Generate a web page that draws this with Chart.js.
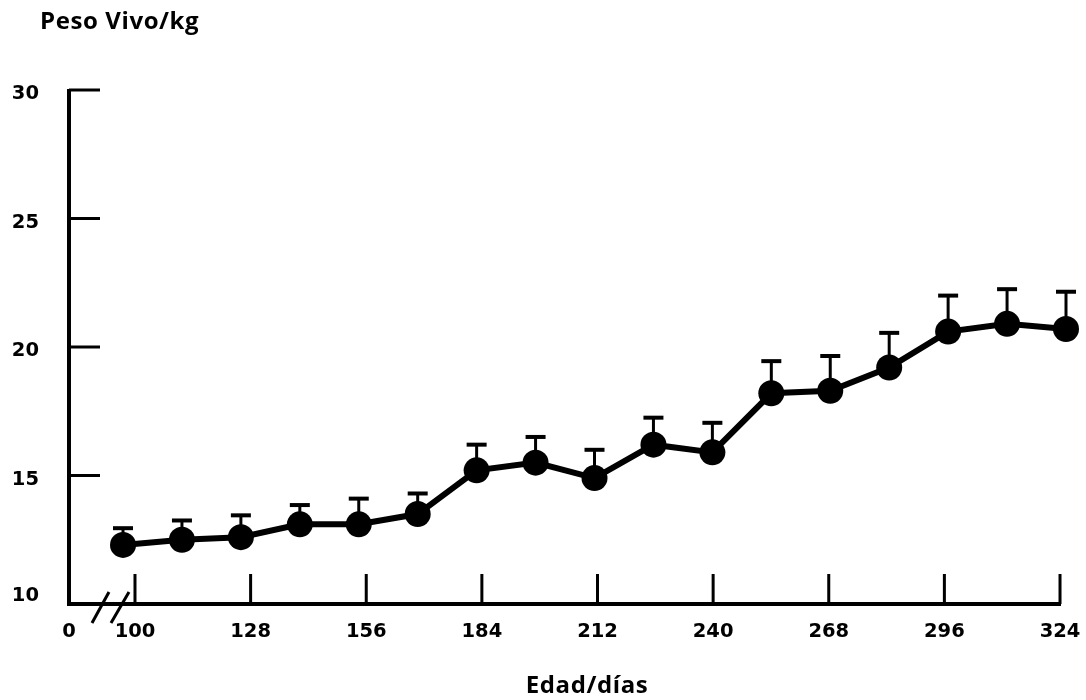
<!DOCTYPE html>
<html>
<head>
<meta charset="utf-8">
<script src="https://cdn.jsdelivr.net/npm/chart.js@4.4.0/dist/chart.umd.min.js"></script>
<style>
    html, body { margin: 0; padding: 0; background: #fff; }
    #contenedor { width: 1086px; height: 700px; }
</style>
</head>
<body>
<div id="contenedor"><canvas id="peso"></canvas></div>
<script>
// Edad de los animales (dias)
const edades = [100, 114, 128, 142, 156, 170, 184, 198, 212, 226, 240, 254, 268, 282, 296, 310, 324];
// Peso vivo promedio (kg)
const pesos = [12.3, 12.5, 12.6, 13.1, 13.1, 13.5, 15.2, 15.5, 14.9, 16.2, 15.9, 18.2, 18.3, 19.2, 20.6, 20.9, 20.7];
// Error estandar, solo se dibuja hacia arriba
const errores = [0.65, 0.75, 0.85, 0.75, 1.0, 0.8, 1.0, 1.0, 1.1, 1.05, 1.15, 1.25, 1.35, 1.35, 1.4, 1.35, 1.45];
// Marcas de los ejes
const ticksEdad = [100, 128, 156, 184, 212, 240, 268, 296, 324];
const ticksPeso = [10, 15, 20, 25, 30];

const fuenteNum = 'bold 19.5px "DejaVu Sans"';
const fuenteTitulo = 'bold 24px "Open Sans"';

// Dibuja ejes, marcas, corte del eje, titulos y barras de error
const pluginEjes = {
    id: 'ejes',
    beforeDatasetsDraw(chart) {
        const { ctx } = chart;
        const xd = chart.scales.x;
        const xe = chart.scales.xEje;
        const y = chart.scales.y;
        const y0 = y.getPixelForValue(10);
        const x0 = chart.chartArea.left;
        const xFin = xe.getPixelForValue(324);

        ctx.save();
        ctx.strokeStyle = '#000';
        ctx.fillStyle = '#000';
        ctx.lineCap = 'butt';

        //Ejes
        ctx.lineWidth = 4;
        ctx.beginPath();
        ctx.moveTo(x0, y.getPixelForValue(30) - 1);
        ctx.lineTo(x0, y0 + 2);
        ctx.moveTo(x0 - 2, y0);
        ctx.lineTo(xFin + 1, y0);
        ctx.stroke();

        //Marcas del eje y (hacia dentro)
        ctx.lineWidth = 3;
        ctx.beginPath();
        ticksPeso.forEach(v => {
            if (v === 10) return;
            const py = y.getPixelForValue(v);
            ctx.moveTo(x0, py);
            ctx.lineTo(x0 + 31, py);
        });
        //Marcas del eje x (hacia arriba)
        ticksEdad.forEach(v => {
            const px = xe.getPixelForValue(v);
            ctx.moveTo(px, y0);
            ctx.lineTo(px, y0 - 30);
        });
        ctx.stroke();

        //Corte del eje
        const pc = xe.getPixelForValue(ticksEdad[0]);
        ctx.lineWidth = 3;
        ctx.beginPath();
        ctx.moveTo(pc - 43, y0 + 19);
        ctx.lineTo(pc - 26, y0 - 12);
        ctx.moveTo(pc - 24, y0 + 19);
        ctx.lineTo(pc - 6, y0 - 12);
        ctx.stroke();

        //Etiquetas
        ctx.font = fuenteNum;
        ctx.textBaseline = 'middle';
        ctx.textAlign = 'right';
        ticksPeso.forEach(v => {
            const py = y.getPixelForValue(v);
            ctx.fillText(String(v), 39, v === 10 ? py - 8 : py + 4);
        });
        ctx.textAlign = 'center';
        ticksEdad.forEach(v => {
            ctx.fillText(String(v), xe.getPixelForValue(v), y0 + 28);
        });
        ctx.fillText('0', x0, y0 + 28);

        //Titulos
        ctx.font = fuenteTitulo;
        ctx.letterSpacing = '0.6px';
        ctx.textAlign = 'left';
        ctx.textBaseline = 'alphabetic';
        ctx.fillText('Peso Vivo/kg', 40, 29);
        ctx.textAlign = 'center';
        ctx.fillText('Edad/días', 587, 693);
        ctx.letterSpacing = '0px';

        //Barras de error
        edades.forEach((e, i) => {
            const px = xd.getPixelForValue(e);
            const pMed = y.getPixelForValue(pesos[i]);
            const pSup = y.getPixelForValue(pesos[i] + errores[i]);
            ctx.lineWidth = 3;
            ctx.beginPath();
            ctx.moveTo(px, pMed);
            ctx.lineTo(px, pSup);
            ctx.stroke();
            ctx.lineWidth = 4;
            ctx.beginPath();
            ctx.moveTo(px - 10, pSup);
            ctx.lineTo(px + 10, pSup);
            ctx.stroke();
        });

        ctx.restore();
    }
};

const ctx = document.getElementById('peso').getContext('2d');
let grafica = new Chart(ctx, {
    type: 'line',
    data: {
        datasets: [{
            label: 'Peso vivo',
            data: edades.map((e, i) => ({ x: e, y: pesos[i] })),
            borderColor: '#000',
            backgroundColor: '#000',
            borderWidth: 6,
            tension: 0,
            pointRadius: 13,
            pointBackgroundColor: '#000',
            pointBorderWidth: 0,
            clip: false
        }]
    },
    options: {
        responsive: true,
        maintainAspectRatio: false,
        animation: false,
        layout: {
            padding: { left: 69, right: 20, top: 90, bottom: 96 }
        },
        plugins: {
            legend: { display: false },
            tooltip: { enabled: false },
            title: { display: false }
        },
        scales: {
            x: { type: 'linear', min: 87.17, max: 324, display: false },
            xEje: { type: 'linear', axis: 'x', position: 'bottom', min: 84.02, max: 325.45, display: false },
            y: { type: 'linear', min: 10, max: 30, display: false }
        }
    },
    plugins: [pluginEjes]
});
</script>
</body>
</html>
